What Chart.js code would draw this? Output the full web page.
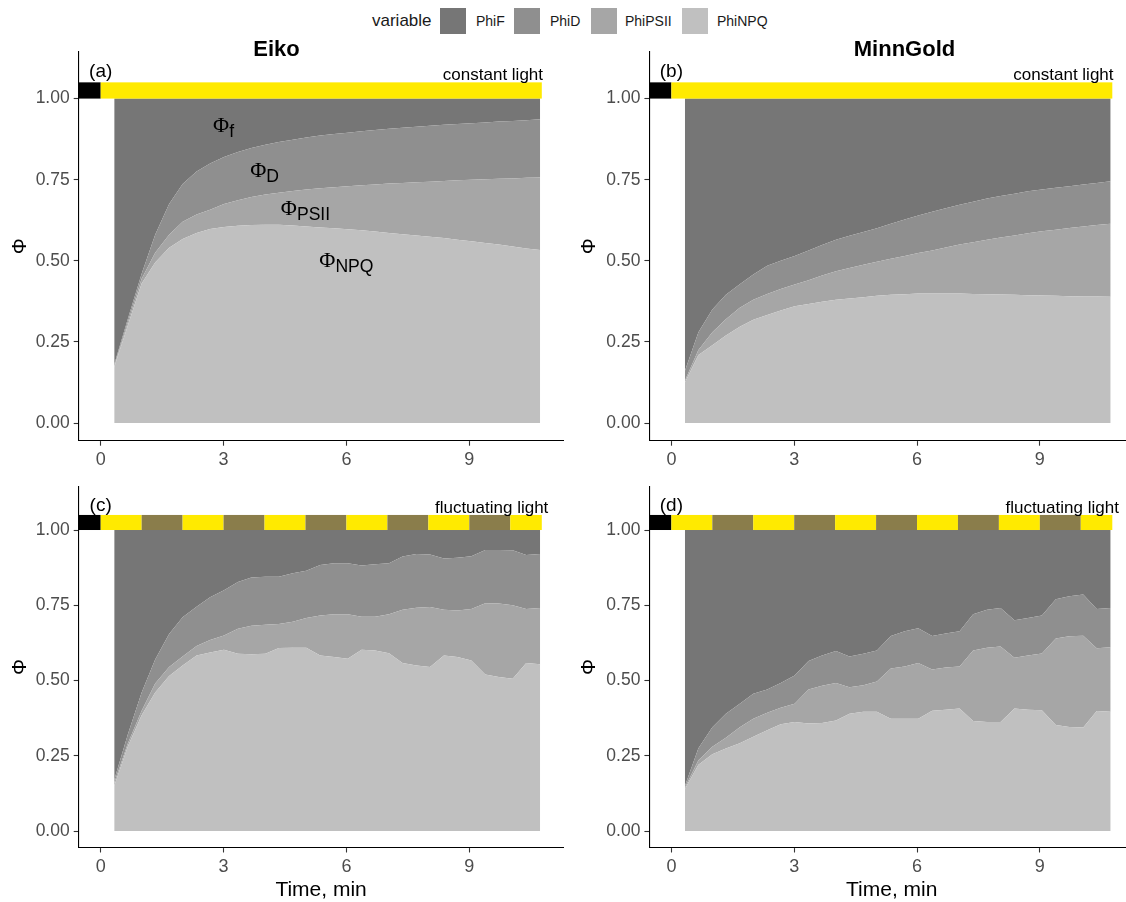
<!DOCTYPE html>
<html>
<head>
<meta charset="utf-8">
<title>Quantum yields under constant and fluctuating light</title>
<script src="https://cdn.jsdelivr.net/npm/chart.js@4.4.0/dist/chart.umd.min.js"></script>
<style>
  html, body { margin: 0; padding: 0; background: #fff; overflow: hidden; }
  body { width: 1126px; height: 902px; position: relative; font-family: "Liberation Sans", Arial, sans-serif; }
  canvas { position: absolute; }
  .lg-title { position: absolute; left: 372px; top: 10px; font-size: 17px; line-height: 22px; color: #1a1a1a; }
  .lg-key   { position: absolute; top: 8px; width: 26px; height: 26px; }
  .lg-label { position: absolute; top: 12px; font-size: 14px; line-height: 18px; color: #1a1a1a; }
</style>
</head>
<body>
<div id="legend"></div>
<canvas id="panel-a"></canvas>
<canvas id="panel-b"></canvas>
<canvas id="panel-c"></canvas>
<canvas id="panel-d"></canvas>

<script>
/* ── Data ───────────────────────────────────────────────── */
const times  = [0.33, 0.66, 1.00, 1.33, 1.67, 2.00, 2.34, 2.67, 3.01, 3.35, 3.68, 4.02, 4.35, 4.69, 5.02, 5.36,
                5.70, 6.03, 6.37, 6.70, 7.04, 7.37, 7.71, 8.04, 8.38, 8.71, 9.05, 9.39, 9.72, 10.06, 10.39, 10.73];
const xTicks = [0, 3, 6, 9];
const yTicks = [0, 0.25, 0.5, 0.75, 1];
const variables = ['PhiF', 'PhiD', 'PhiPSII', 'PhiNPQ'];

// Eiko, constant light
const eikoConstF    = [0.82, 0.68, 0.54, 0.42, 0.325, 0.263, 0.225, 0.20, 0.18, 0.165, 0.152, 0.142, 0.134, 0.127, 0.12, 0.114,
                       0.109, 0.105, 0.101, 0.097, 0.093, 0.09, 0.087, 0.084, 0.081, 0.078, 0.076, 0.074, 0.071, 0.069, 0.067, 0.064];
const eikoConstD    = [0.005, 0.01, 0.015, 0.055, 0.095, 0.117, 0.132, 0.143, 0.145, 0.148, 0.151, 0.154, 0.156, 0.158, 0.16, 0.162,
                       0.164, 0.165, 0.166, 0.168, 0.169, 0.17, 0.171, 0.172, 0.173, 0.174, 0.174, 0.175, 0.176, 0.177, 0.177, 0.179];
const eikoConstPSII = [0.003, 0.01, 0.015, 0.03, 0.04, 0.053, 0.057, 0.059, 0.071, 0.079, 0.087, 0.093, 0.099, 0.106, 0.114, 0.121,
                       0.127, 0.133, 0.139, 0.145, 0.152, 0.158, 0.164, 0.17, 0.176, 0.183, 0.19, 0.196, 0.203, 0.21, 0.218, 0.224];
const eikoConstNPQ  = [0.172, 0.30, 0.43, 0.495, 0.54, 0.567, 0.586, 0.598, 0.604, 0.608, 0.61, 0.611, 0.611, 0.609, 0.606, 0.603,
                       0.60, 0.597, 0.594, 0.59, 0.586, 0.582, 0.578, 0.574, 0.57, 0.565, 0.56, 0.555, 0.55, 0.544, 0.538, 0.533];

// MinnGold, constant light
const minnConstF    = [0.84, 0.72, 0.65, 0.605, 0.572, 0.542, 0.515, 0.50, 0.485, 0.468, 0.451, 0.435, 0.423, 0.411, 0.40, 0.386,
                       0.373, 0.36, 0.349, 0.338, 0.327, 0.318, 0.308, 0.30, 0.293, 0.286, 0.28, 0.275, 0.27, 0.265, 0.26, 0.255];
const minnConstD    = [0.03, 0.055, 0.07, 0.075, 0.073, 0.078, 0.087, 0.087, 0.088, 0.092, 0.094, 0.097, 0.099, 0.101, 0.103, 0.108,
                       0.112, 0.116, 0.119, 0.121, 0.123, 0.125, 0.127, 0.128, 0.129, 0.129, 0.129, 0.129, 0.129, 0.129, 0.13, 0.131];
const minnConstPSII = [0.005, 0.015, 0.04, 0.05, 0.058, 0.062, 0.065, 0.066, 0.067, 0.073, 0.081, 0.088, 0.094, 0.10, 0.105, 0.111,
                       0.118, 0.125, 0.133, 0.142, 0.151, 0.159, 0.168, 0.176, 0.183, 0.191, 0.198, 0.204, 0.21, 0.216, 0.22, 0.225];
const minnConstNPQ  = [0.125, 0.21, 0.24, 0.27, 0.297, 0.318, 0.333, 0.347, 0.36, 0.367, 0.374, 0.38, 0.384, 0.388, 0.392, 0.395,
                       0.397, 0.399, 0.399, 0.399, 0.399, 0.398, 0.397, 0.396, 0.395, 0.394, 0.393, 0.392, 0.391, 0.39, 0.39, 0.389];

// Eiko, fluctuating light
const eikoFluctF    = [0.83, 0.68, 0.54, 0.43, 0.345, 0.29, 0.255, 0.223, 0.20, 0.173, 0.158, 0.155, 0.155, 0.144, 0.135, 0.116,
                       0.11, 0.11, 0.118, 0.114, 0.11, 0.088, 0.08, 0.081, 0.095, 0.092, 0.087, 0.066, 0.066, 0.067, 0.083, 0.08];
const eikoFluctD    = [0.01, 0.03, 0.06, 0.08, 0.11, 0.13, 0.13, 0.142, 0.15, 0.155, 0.16, 0.16, 0.157, 0.161, 0.157, 0.168,
                       0.17, 0.17, 0.17, 0.174, 0.17, 0.177, 0.178, 0.175, 0.17, 0.175, 0.175, 0.177, 0.178, 0.183, 0.179, 0.179];
const eikoFluctPSII = [0.01, 0.01, 0.015, 0.03, 0.03, 0.03, 0.032, 0.042, 0.048, 0.083, 0.095, 0.096, 0.08, 0.086, 0.099, 0.133,
                       0.142, 0.148, 0.11, 0.112, 0.129, 0.177, 0.192, 0.199, 0.152, 0.155, 0.171, 0.237, 0.244, 0.244, 0.18, 0.187];
const eikoFluctNPQ  = [0.15, 0.28, 0.385, 0.46, 0.515, 0.55, 0.583, 0.593, 0.602, 0.589, 0.587, 0.589, 0.608, 0.609, 0.609, 0.583,
                       0.578, 0.572, 0.602, 0.60, 0.591, 0.558, 0.55, 0.545, 0.583, 0.578, 0.567, 0.52, 0.512, 0.506, 0.558, 0.554];

// MinnGold, fluctuating light
const minnFluctF    = [0.85, 0.725, 0.655, 0.61, 0.577, 0.544, 0.53, 0.508, 0.483, 0.435, 0.417, 0.402, 0.42, 0.411, 0.40, 0.352,
                       0.336, 0.326, 0.352, 0.344, 0.336, 0.28, 0.265, 0.259, 0.30, 0.292, 0.284, 0.23, 0.22, 0.214, 0.262, 0.259];
const minnFluctD    = [0.005, 0.04, 0.065, 0.08, 0.078, 0.083, 0.077, 0.082, 0.094, 0.095, 0.10, 0.106, 0.102, 0.105, 0.103, 0.108,
                       0.117, 0.116, 0.111, 0.113, 0.117, 0.12, 0.126, 0.128, 0.124, 0.125, 0.126, 0.13, 0.133, 0.137, 0.131, 0.13];
const minnFluctPSII = [0.005, 0.015, 0.025, 0.036, 0.053, 0.06, 0.058, 0.055, 0.061, 0.113, 0.124, 0.125, 0.088, 0.088, 0.101, 0.167,
                       0.174, 0.185, 0.137, 0.14, 0.14, 0.234, 0.247, 0.251, 0.169, 0.18, 0.189, 0.288, 0.301, 0.305, 0.208, 0.215];
const minnFluctNPQ  = [0.14, 0.22, 0.255, 0.274, 0.292, 0.313, 0.335, 0.355, 0.362, 0.357, 0.359, 0.367, 0.39, 0.396, 0.396, 0.373,
                       0.373, 0.373, 0.40, 0.403, 0.407, 0.366, 0.362, 0.362, 0.407, 0.403, 0.401, 0.352, 0.346, 0.344, 0.399, 0.396];

// light regime bars: [from, to, level] in minutes
const constantLight    = [[0, 10.77, 'high']];
const fluctuatingLight = [[0, 1, 'high'], [1, 2, 'low'], [2, 3, 'high'], [3, 4, 'low'], [4, 5, 'high'], [5, 6, 'low'],
                          [6, 7, 'high'], [7, 8, 'low'], [8, 9, 'high'], [9, 10, 'low'], [10, 10.77, 'high']];

/* ── Look ───────────────────────────────────────────────── */
const SANS  = '"Liberation Sans", Arial, sans-serif';
const SERIF = '"Liberation Serif", "Times New Roman", serif';
const fills = { PhiF: '#767676', PhiD: '#8f8f8f', PhiPSII: '#a6a6a6', PhiNPQ: '#c0c0c0' };
const lightColors = { high: '#ffea00', low: '#8a7d4b' };
const X_MIN = -0.537, X_MAX = 11.3;
const Y_MIN = -0.0545, Y_MAX = 1.1445;

/* ── Legend (HTML) ──────────────────────────────────────── */
(function buildLegend() {
  const el = document.getElementById('legend');
  const keyX   = [440, 514, 591, 682];
  const labelX = [476, 550, 625, 717];
  let html = '<div class="lg-title">variable</div>';
  variables.forEach((v, i) => {
    html += `<div class="lg-key" style="left:${keyX[i]}px;background:${fills[v]}"></div>`;
    html += `<div class="lg-label" style="left:${labelX[i]}px">${v}</div>`;
  });
  el.innerHTML = html;
})();

/* ── Decorations: light bar, labels, titles ─────────────── */
const panelDecor = {
  id: 'panelDecor',
  afterDatasetsDraw(chart, args, o) {
    const { ctx, scales: { x, y } } = chart;
    const top = y.getPixelForValue(1.05), bot = y.getPixelForValue(1);
    ctx.save();
    ctx.fillStyle = '#000';
    ctx.fillRect(x.left, top, x.getPixelForValue(0) - x.left, bot - top);
    o.light.forEach(([from, to, level]) => {
      const x0 = x.getPixelForValue(from), x1 = x.getPixelForValue(to);
      ctx.fillStyle = lightColors[level];
      ctx.fillRect(x0, top, x1 - x0, bot - top);
    });
    ctx.restore();
  },
  afterDraw(chart, args, o) {
    const { ctx, scales: { x, y }, chartArea: ca } = chart;
    ctx.save();
    ctx.fillStyle = '#000';

    // panel letter and light regime
    ctx.textBaseline = 'middle';
    ctx.textAlign = 'center';
    ctx.font = `19px ${SANS}`;
    ctx.fillText(o.letter, x.getPixelForValue(0), y.getPixelForValue(1.082));
    ctx.textAlign = 'right';
    ctx.font = `17px ${SANS}`;
    ctx.fillText(o.lightText, x.getPixelForValue(o.lightTextX), y.getPixelForValue(1.073));

    // strip title
    if (o.title) {
      ctx.textAlign = 'center';
      ctx.font = `bold 22px ${SANS}`;
      ctx.fillText(o.title, o.titleX, o.titleY);
    }

    // y axis title
    ctx.save();
    ctx.translate(o.yTitleX, (ca.top + ca.bottom) / 2);
    ctx.rotate(-Math.PI / 2);
    ctx.textAlign = 'center';
    ctx.font = `20px ${SANS}`;
    ctx.fillText('Φ', 0, 0);
    ctx.restore();

    // x axis title
    if (o.xTitle) {
      ctx.textAlign = 'center';
      ctx.font = `21px ${SANS}`;
      ctx.fillText(o.xTitle, (ca.left + ca.right) / 2, o.xTitleY);
    }

    // Φ annotations
    (o.phiLabels || []).forEach(l => {
      ctx.font = `22px ${SERIF}`;
      const wb = ctx.measureText('Φ').width;
      ctx.font = `17.6px ${SANS}`;
      const ws = ctx.measureText(l.sub).width;
      const x0 = x.getPixelForValue(l.x) - (wb + ws) / 2;
      const base = y.getPixelForValue(l.y) + 7.5;
      ctx.textAlign = 'left';
      ctx.textBaseline = 'alphabetic';
      ctx.font = `22px ${SERIF}`;
      ctx.fillText('Φ', x0, base);
      ctx.font = `17.6px ${SANS}`;
      ctx.fillText(l.sub, x0 + wb, base + 5);
    });
    ctx.restore();
  }
};

/* ── Panel builder ──────────────────────────────────────── */
function buildPanel(p) {
  const canvas = document.getElementById(p.id);
  canvas.width = p.canvas.w;
  canvas.height = p.canvas.h;
  canvas.style.left = p.canvas.x + 'px';
  canvas.style.top  = p.canvas.y + 'px';

  const yWidth  = p.area.left - p.canvas.x;
  const xHeight = p.canvas.y + p.canvas.h - p.area.bottom;
  const series  = { PhiNPQ: p.npq, PhiPSII: p.psii, PhiD: p.d, PhiF: p.f };
  const order   = ['PhiNPQ', 'PhiPSII', 'PhiD', 'PhiF'];

  const axisCommon = {
    type: 'linear',
    border: { display: true, color: '#000', width: 1.1 },
    grid: { display: true, drawOnChartArea: false, drawTicks: true, tickLength: 5, tickColor: '#333', tickWidth: 1.1 },
  };

  return new Chart(canvas, {
    type: 'line',
    data: {
      labels: times,
      datasets: order.map((v, i) => ({
        label: v,
        data: series[v],
        backgroundColor: fills[v],
        borderWidth: 0,
        pointRadius: 0,
        fill: i === 0 ? 'origin' : '-1',
        tension: 0
      }))
    },
    options: {
      responsive: false, animation: false,
      layout: { padding: { top: p.area.top - p.canvas.y, right: p.canvas.x + p.canvas.w - p.area.right, left: 0, bottom: 0 } },
      plugins: {
        legend: { display: false }, tooltip: { enabled: false },
        panelDecor: p.decor
      },
      scales: {
        x: { ...axisCommon, min: X_MIN, max: X_MAX,
             afterBuildTicks: s => { s.ticks = xTicks.map(v => ({ value: v })); },
             afterFit: s => { s.height = xHeight; },
             ticks: { color: '#4d4d4d', font: { family: SANS, size: 18 }, padding: 4, maxRotation: 0, callback: v => v } },
        y: { ...axisCommon, min: Y_MIN, max: Y_MAX, stacked: true,
             afterBuildTicks: s => { s.ticks = yTicks.map(v => ({ value: v })); },
             afterFit: s => { s.width = yWidth; },
             ticks: { color: '#4d4d4d', font: { family: SANS, size: 17.5 }, padding: 4, callback: v => v.toFixed(2) } }
      }
    },
    plugins: [panelDecor]
  });
}

/* ── Init ───────────────────────────────────────────────── */
const phiLabels = [
  { sub: 'f',    x: 3, y: 0.921 },
  { sub: 'D',    x: 4, y: 0.78 },
  { sub: 'PSII', x: 5, y: 0.663 },
  { sub: 'NPQ',  x: 6, y: 0.505 }
];

buildPanel({
  id: 'panel-a', canvas: { x: 0, y: 0, w: 566, h: 472 },
  area: { left: 78.7, top: 51.7, right: 563.5, bottom: 440.7 },
  f: eikoConstF, d: eikoConstD, psii: eikoConstPSII, npq: eikoConstNPQ,
  decor: { letter: '(a)', light: constantLight, lightText: 'constant light', lightTextX: 10.8,
           title: 'Eiko', titleX: 276.5, titleY: 50, yTitleX: 20, phiLabels }
});
buildPanel({
  id: 'panel-b', canvas: { x: 566, y: 0, w: 570, h: 472 },
  area: { left: 649.4, top: 51.7, right: 1134, bottom: 440.7 },
  f: minnConstF, d: minnConstD, psii: minnConstPSII, npq: minnConstNPQ,
  decor: { letter: '(b)', light: constantLight, lightText: 'constant light', lightTextX: 10.8,
           title: 'MinnGold', titleX: 904.5 - 566, titleY: 50, yTitleX: 589.5 - 566 }
});
buildPanel({
  id: 'panel-c', canvas: { x: 0, y: 472, w: 566, h: 430 },
  area: { left: 78.7, top: 485.7, right: 563.5, bottom: 847.5 },
  f: eikoFluctF, d: eikoFluctD, psii: eikoFluctPSII, npq: eikoFluctNPQ,
  decor: { letter: '(c)', light: fluctuatingLight, lightText: 'fluctuating light', lightTextX: 10.93,
           yTitleX: 20, xTitle: 'Time, min', xTitleY: 890 - 472 }
});
buildPanel({
  id: 'panel-d', canvas: { x: 566, y: 472, w: 570, h: 430 },
  area: { left: 649.4, top: 485.7, right: 1134, bottom: 847.5 },
  f: minnFluctF, d: minnFluctD, psii: minnFluctPSII, npq: minnFluctNPQ,
  decor: { letter: '(d)', light: fluctuatingLight, lightText: 'fluctuating light', lightTextX: 10.93,
           yTitleX: 589.5 - 566, xTitle: 'Time, min', xTitleY: 890 - 472 }
});
</script>
</body>
</html>
